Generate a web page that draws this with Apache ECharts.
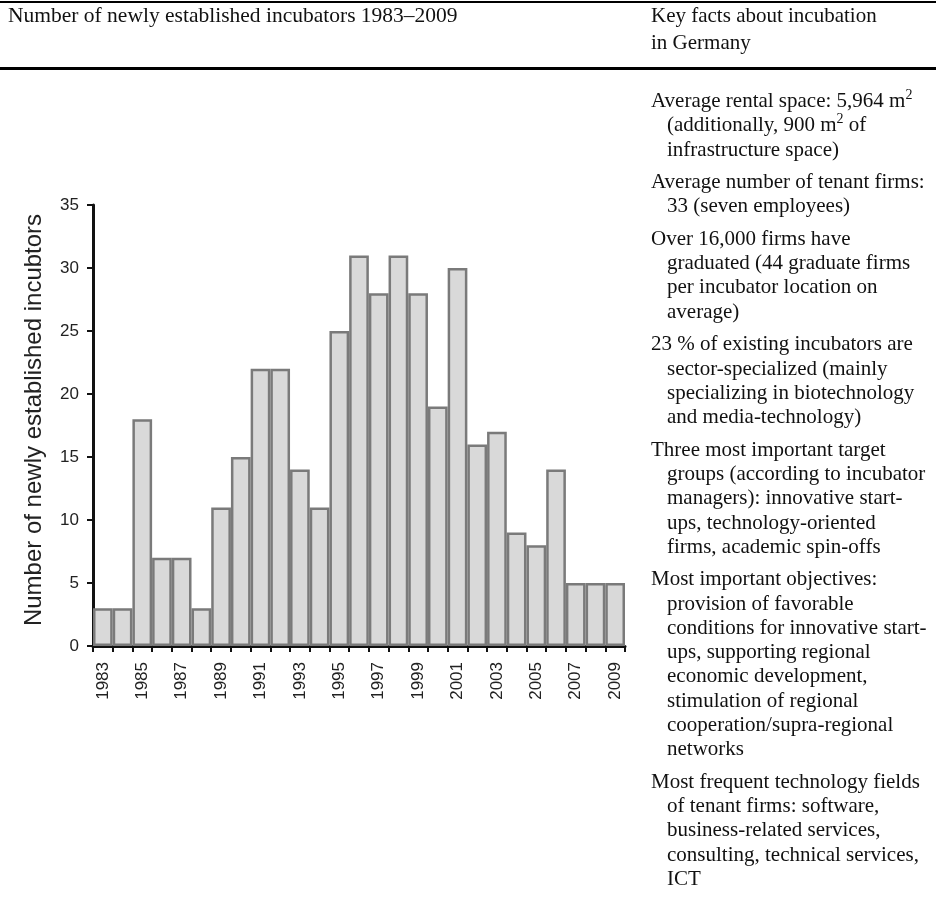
<!DOCTYPE html>
<html>
<head>
<meta charset="utf-8">
<script src="https://cdn.jsdelivr.net/npm/echarts@6/dist/echarts.min.js"></script>
<style>
  html, body { margin: 0; padding: 0; background: #fff; }
  #wrap { position: relative; width: 936px; height: 897px; overflow: hidden; }
  #chart { position: absolute; left: 0; top: 0; width: 936px; height: 897px; }
  .rule { position: absolute; left: 0; width: 936px; background: #000; }
  .serif { font-family: "Liberation Serif", "DejaVu Serif", serif; color: #111; }
  #head1 { position: absolute; left: 8px; top: 2px; font-size: 21.5px; line-height: 27px; white-space: nowrap; }
  #head2 { position: absolute; left: 651px; top: 2px; font-size: 21px; line-height: 27px; white-space: nowrap; }
  #facts { position: absolute; left: 651px; top: 88px; width: 285px; font-size: 21px; line-height: 24.3px; white-space: nowrap; }
  #facts p { margin: 0 0 8.2px 0; padding-left: 16px; text-indent: -16px; }
  sup { font-size: 14px; line-height: 0; vertical-align: 8px; }
</style>
</head>
<body>
<div id="wrap">
  <div id="chart"></div>
  <div class="rule" style="top:1px;height:2px"></div>
  <div class="rule" style="top:67px;height:3px"></div>
  <div id="head1" class="serif">Number of newly established incubators 1983–2009</div>
  <div id="head2" class="serif">Key facts about incubation<br>in Germany</div>
  <div id="facts" class="serif">
    <p>Average rental space: 5,964 m<sup>2</sup><br>(additionally, 900 m<sup>2</sup> of<br>infrastructure space)</p>
    <p>Average number of tenant firms:<br>33 (seven employees)</p>
    <p>Over 16,000 firms have<br>graduated (44 graduate firms<br>per incubator location on<br>average)</p>
    <p>23 % of existing incubators are<br>sector-specialized (mainly<br>specializing in biotechnology<br>and media-technology)</p>
    <p>Three most important target<br>groups (according to incubator<br>managers): innovative start-<br>ups, technology-oriented<br>firms, academic spin-offs</p>
    <p>Most important objectives:<br>provision of favorable<br>conditions for innovative start-<br>ups, supporting regional<br>economic development,<br>stimulation of regional<br>cooperation/supra-regional<br>networks</p>
    <p>Most frequent technology fields<br>of tenant firms: software,<br>business-related services,<br>consulting, technical services,<br>ICT</p>
  </div>
</div>
<script>
// years and number of newly established incubators
const years = ['1983', '1984', '1985', '1986', '1987', '1988', '1989', '1990', '1991',
  '1992', '1993', '1994', '1995', '1996', '1997', '1998', '1999', '2000', '2001',
  '2002', '2003', '2004', '2005', '2006', '2007', '2008', '2009'];
const counts = [3, 3, 18, 7, 7, 3, 11, 15, 22, 22, 14, 11, 25, 31, 28, 31, 28, 19, 30,
  16, 17, 9, 8, 14, 5, 5, 5];
const yTicks = [0, 5, 10, 15, 20, 25, 30, 35];

const chart = echarts.init(document.getElementById('chart'), null, { renderer: 'canvas' });

const sans = '"Liberation Sans", Arial, sans-serif';

const option = {
  animation: false,
  grid: {
    left: 93,
    top: 205,
    width: 532,
    height: 441
  },
  xAxis: {
    type: 'category',
    data: years,
    boundaryGap: true,
    axisLine: {
      lineStyle: { color: '#111', width: 3 }
    },
    axisTick: {
      show: true,
      alignWithLabel: false,
      interval: 0,
      length: 6,
      lineStyle: { color: '#111', width: 2 }
    },
    axisLabel: {
      rotate: 90,
      interval: 1,
      margin: 16,
      fontSize: 17,
      fontFamily: sans,
      color: '#222'
    },
    splitLine: { show: false }
  },
  yAxis: {
    type: 'value',
    min: yTicks[0],
    max: yTicks[yTicks.length - 1],
    interval: 5,
    axisLine: {
      show: true,
      lineStyle: { color: '#111', width: 3 }
    },
    axisTick: {
      show: true,
      length: 6,
      lineStyle: { color: '#111', width: 2 }
    },
    axisLabel: {
      margin: 14,
      fontSize: 17,
      fontFamily: sans,
      color: '#222'
    },
    splitLine: { show: false }
  },
  graphic: [
    {
      type: 'text',
      x: 34,
      y: 420,
      rotation: Math.PI / 2,
      style: {
        text: 'Number of newly established incubtors',
        font: '24px ' + sans,
        fill: '#222',
        textAlign: 'center',
        textVerticalAlign: 'middle'
      }
    }
  ],
  series: [
    {
      type: 'bar',
      data: counts,
      barCategoryGap: '0%',
      itemStyle: {
        color: '#d9d9d9',
        borderColor: '#7a7a7a',
        borderWidth: 2.5
      }
    }
  ]
};

chart.setOption(option);
</script>
</body>
</html>
